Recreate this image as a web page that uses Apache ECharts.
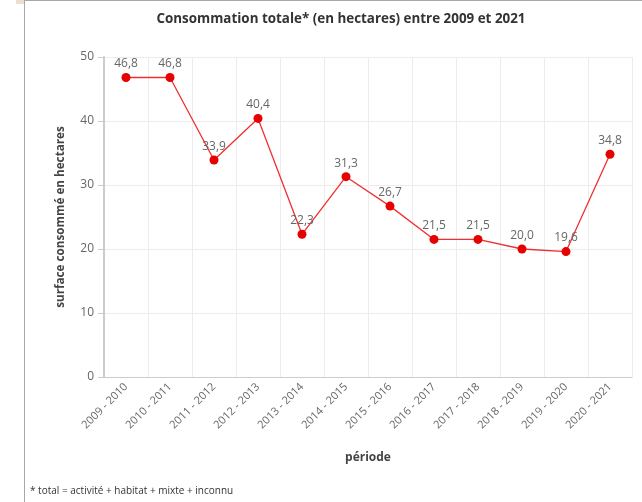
<!DOCTYPE html>
<html><head><meta charset="utf-8">
<script src="https://cdn.jsdelivr.net/npm/echarts@6/dist/echarts.min.js"></script>
<style>html,body{margin:0;padding:0;background:#fff}#c{width:642px;height:502px}</style>
</head><body><div id="c"></div>
<script>
const categories = ['2009 - 2010','2010 - 2011','2011 - 2012','2012 - 2013','2013 - 2014','2014 - 2015','2015 - 2016','2016 - 2017','2017 - 2018','2018 - 2019','2019 - 2020','2020 - 2021'];
const values = [46.8, 46.8, 33.9, 40.4, 22.3, 31.3, 26.7, 21.5, 21.5, 20.0, 19.6, 34.8];
const yTicks = [0, 10, 20, 30, 40, 50];
const titleText = 'Consommation totale* (en hectares) entre 2009 et 2021';
const yName = 'surface consommé en hectares';
const xName = 'période';
const footnote = '* total = activité + habitat + mixte + inconnu';

const font = '"Open Sans", Lato, sans-serif';
const chart = echarts.init(document.getElementById('c'));
chart.setOption({
  animation: false,
  title: { text: titleText, left: 336, top: 8, textAlign: 'center',
    textStyle: { fontFamily: font, fontSize: 13.4, fontWeight: 'bold', color: '#333' } },
  graphic: [
    { type: 'rect', shape: { x: 16, y: 0, width: 8, height: 4 }, style: { fill: '#ecdfcf' } },
    { type: 'line', shape: { x1: 24.5, y1: 0, x2: 24.5, y2: 502 }, style: { stroke: '#a8a8a8', lineWidth: 1 } },
    { type: 'line', shape: { x1: 24, y1: 0.5, x2: 642, y2: 0.5 }, style: { stroke: '#a8a8a8', lineWidth: 1 } },
    { type: 'text', left: 30, top: 486, style: { text: footnote, fontFamily: font, fontSize: 10, fill: '#333' } }
  ],
  grid: { left: 104, right: 10, top: 57, bottom: 125 },
  xAxis: {
    type: 'category', data: categories, boundaryGap: true,
    name: xName, nameLocation: 'middle', nameGap: 75,
    nameTextStyle: { fontFamily: font, fontSize: 12, fontWeight: 'bold', color: '#444' },
    axisLine: { lineStyle: { color: '#cccccc', width: 1 } },
    axisTick: { alignWithLabel: true, length: 5, lineStyle: { color: '#cccccc' } },
    axisLabel: { rotate: 45, fontFamily: font, fontSize: 11, color: '#666', margin: 8 },
    splitLine: { show: true, lineStyle: { color: '#ececec' } }
  },
  yAxis: {
    type: 'value', min: yTicks[0], max: yTicks[yTicks.length - 1], interval: 10,
    name: yName, nameLocation: 'middle', nameGap: 37,
    nameTextStyle: { fontFamily: font, fontSize: 11.7, fontWeight: 'bold', color: '#444' },
    axisLine: { show: true, lineStyle: { color: '#cccccc', width: 2 } },
    axisTick: { show: true, length: 6, lineStyle: { color: '#cccccc' } },
    axisLabel: { fontFamily: font, fontSize: 12, color: '#666', margin: 10 },
    splitLine: { show: true, lineStyle: { color: '#ececec' } }
  },
  series: [{
    type: 'line', data: values, symbol: 'circle', symbolSize: 9,
    lineStyle: { color: '#f03030', width: 1.3 },
    itemStyle: { color: '#e60000' },
    label: { show: true, position: 'top', distance: 3, fontFamily: font, fontSize: 12, color: '#666',
      formatter: p => p.value.toFixed(1).replace('.', ',') }
  }]
});
</script></body></html>
